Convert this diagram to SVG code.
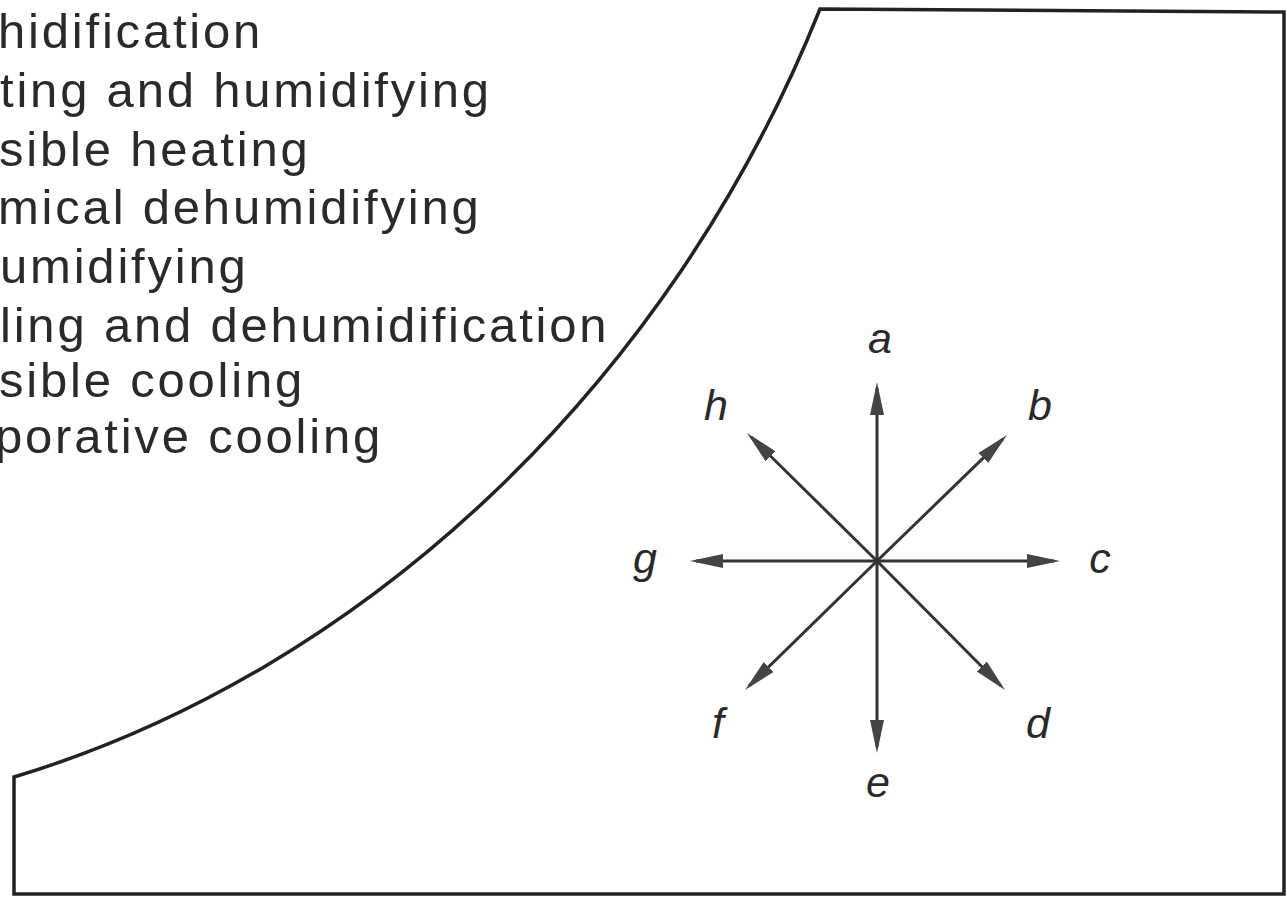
<svg xmlns="http://www.w3.org/2000/svg" width="1287" height="898" viewBox="0 0 1287 898">
<style>
.frame{fill:none;stroke:#222;stroke-width:3.5;stroke-linejoin:miter}
.list{font-family:"Liberation Sans",Arial,sans-serif;font-size:49px;fill:#2a2a2a;letter-spacing:2.8px}
.lbl{font-family:"Liberation Sans",Arial,sans-serif;font-style:italic;font-size:43px;fill:#2a2a2a;text-anchor:middle}
.arr{stroke:#333;stroke-width:3;fill:none;marker-end:url(#head)}
</style>
<defs>
<marker id="head" markerUnits="userSpaceOnUse" markerWidth="36" markerHeight="18" viewBox="0 -9 36 18" refX="27" refY="0" orient="auto">
<path d="M0,-7 L33,0 L0,7 z" fill="#444"/>
</marker>
</defs>
<rect width="1287" height="898" fill="#fff"/>
<g id="chart">
<path class="frame" d="M820,9 L1284,12 L1284,894 L14,894 L14,777 C364,672 670,384 820,9 Z"/>
</g>
<g id="legend">
<text class="list" x="-2" y="48">hidification</text>
<text class="list" x="0" y="107">ting and humidifying</text>
<text class="list" x="-1" y="166">sible heating</text>
<text class="list" x="-2" y="224">mical dehumidifying</text>
<text class="list" x="0" y="283">umidifying</text>
<text class="list" x="0" y="342">ling and dehumidification</text>
<text class="list" x="-1" y="397">sible cooling</text>
<text class="list" x="-5" y="453">porative cooling</text>
</g>
<g id="connectors">
<line class="arr" x1="877" y1="561" x2="877" y2="388"/>
<line class="arr" x1="877" y1="561" x2="1002.7" y2="439.2"/>
<line class="arr" x1="877" y1="561" x2="1054" y2="561"/>
<line class="arr" x1="877" y1="561" x2="1000.8" y2="685.7"/>
<line class="arr" x1="877" y1="561" x2="877" y2="747"/>
<line class="arr" x1="877" y1="561" x2="749.3" y2="685.8"/>
<line class="arr" x1="877" y1="561" x2="696" y2="561"/>
<line class="arr" x1="877" y1="561" x2="751.3" y2="437.2"/>
</g>
<g id="label-a"><text class="lbl" x="880" y="353">a</text></g>
<g id="label-b"><text class="lbl" x="1040" y="420">b</text></g>
<g id="label-c"><text class="lbl" x="1100" y="573">c</text></g>
<g id="label-d"><text class="lbl" x="1038" y="738">d</text></g>
<g id="label-e"><text class="lbl" x="878" y="797">e</text></g>
<g id="label-f"><text class="lbl" x="718" y="738">f</text></g>
<g id="label-g"><text class="lbl" x="645" y="573">g</text></g>
<g id="label-h"><text class="lbl" x="716" y="420">h</text></g>
</svg>
